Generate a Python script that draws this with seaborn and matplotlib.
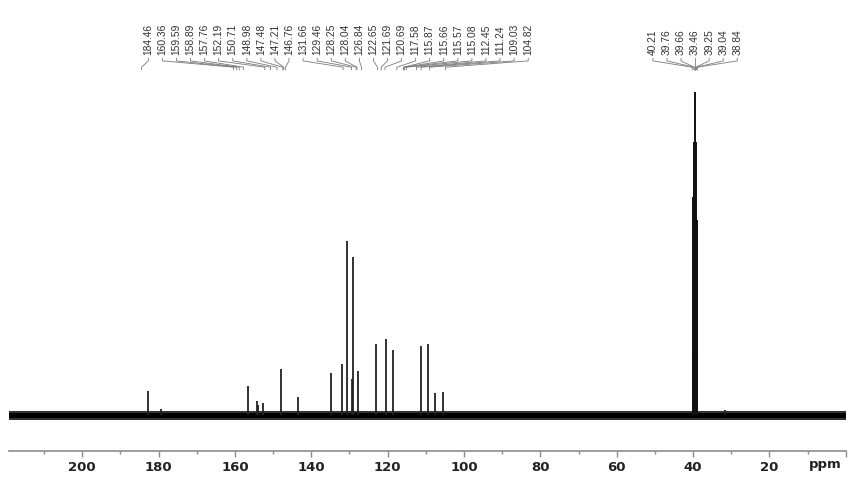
import matplotlib
matplotlib.use("Agg")
import matplotlib.pyplot as plt
from matplotlib.ticker import MultipleLocator
import pandas as pd
import seaborn as sns

# ---------------- data ----------------
# sample peaks (ppm, intensity in arbitrary units)
peak_ppm = [182.7, 179.4, 156.5, 154.3, 153.9, 152.6, 148.0, 143.4, 134.8,
            132.0, 130.7, 129.4, 129.0, 127.7, 123.1, 120.4, 118.7, 111.3,
            109.4, 107.5, 105.6, 31.6]
peak_int = [24, 6, 29, 14, 10, 12, 46, 18, 42,
            51, 174, 36, 158, 44, 71, 76, 65, 69,
            71, 22, 23, 5]

# DMSO-d6 solvent septet
solvent_ppm = [40.13, 39.92, 39.71, 39.50, 39.29, 39.08, 38.87]
solvent_int = [60, 218, 273, 323, 273, 195, 60]

# spectral window (ppm) and baseline level
window_ppm = [219.2, 0.0]
baseline_int = [0, 0]

# peak-picking labels
aromatic_labels = ["184.46", "160.36", "159.59", "158.89", "157.76", "152.19",
                   "150.71", "148.98", "147.48", "147.21", "146.76", "131.66",
                   "129.46", "128.25", "128.04", "126.84", "122.65", "121.69",
                   "120.69", "117.58", "115.87", "115.66", "115.57", "115.08",
                   "112.45", "111.24", "109.03", "104.82"]
solvent_labels = ["40.21", "39.76", "39.66", "39.46", "39.25", "39.04", "38.84"]

x_ticks = [200, 180, 160, 140, 120, 100, 80, 60, 40, 20]
x_tick_labels = ["200", "180", "160", "140", "120", "100", "80", "60", "40", "20"]
axis_unit = "ppm"

# ---------------- figure ----------------
sns.set_theme(style="white")
plt.rcParams["font.family"] = ["DejaVu Sans"]

W, H = 864, 490
fig = plt.figure(figsize=(W / 100, H / 100), dpi=100)
ax = fig.add_axes([9.0 / W, 39.0 / H, 836.7 / W, 451.0 / H])

base_df = pd.DataFrame({"ppm": window_ppm, "intensity": baseline_int})
sns.lineplot(data=base_df, x="ppm", y="intensity", ax=ax, color="#333333",
             linewidth=6.5, sort=False, estimator=None, legend=False)
sns.lineplot(data=base_df, x="ppm", y="intensity", ax=ax, color="#000000",
             linewidth=3.5, sort=False, estimator=None, legend=False)

ax.vlines(peak_ppm, 0, peak_int, color="#222222", linewidth=1.3)
ax.vlines(solvent_ppm, 0, solvent_int, color="#111111", linewidth=1.4)

ax.set_xlim(window_ppm[0], window_ppm[1])
ax.set_ylim(-36, 415)

for s in ["top", "left", "right"]:
    ax.spines[s].set_visible(False)
ax.spines["bottom"].set_color("#8c8c8c")
ax.spines["bottom"].set_linewidth(1.2)
ax.set_yticks([])
ax.set_xticks(x_ticks + [0])
ax.set_xticklabels(x_tick_labels + [""], fontweight="bold", fontsize=9.5,
                   color="#222222")
ax.xaxis.set_minor_locator(MultipleLocator(10))
ax.tick_params(axis="x", which="major", direction="out", length=4, width=1,
               color="#8c8c8c", pad=3.5, bottom=True)
ax.tick_params(axis="x", which="minor", direction="out", length=2.5, width=1,
               color="#8c8c8c", bottom=True)
ax.set_xlabel("")
ax.set_ylabel("")
ax.text(5.4, -0.031, axis_unit, transform=ax.get_xaxis_transform(),
        ha="center", va="center", fontsize=9.5, fontweight="bold",
        color="#222222")

# ---------------- peak labels with leader lines ----------------
trans = ax.get_xaxis_transform()
px_per_ppm = 836.7 / (window_ppm[0] - window_ppm[1])
step = 14.07 / px_per_ppm
y_text, y_a, y_b, y_c, y_d = 0.877, 0.871, 0.865, 0.851, 0.845


def draw_group(labels, first_slot):
    for i, lab in enumerate(labels):
        slot = first_slot - i * step
        target = float(lab)
        ax.text(slot, y_text, lab, transform=trans, rotation=90,
                ha="center", va="bottom", fontsize=7.4, color="#333333",
                family=["Liberation Sans", "DejaVu Sans"])
        ax.plot([slot, slot, target, target], [y_a, y_b, y_c, y_d],
                transform=trans, color="#7a7a7a", linewidth=0.6,
                clip_on=False)


draw_group(aromatic_labels, peak_ppm[0])
center = float(solvent_labels[3])
draw_group(solvent_labels, center + 3 * step)

fig.savefig("out.png", dpi=100)
